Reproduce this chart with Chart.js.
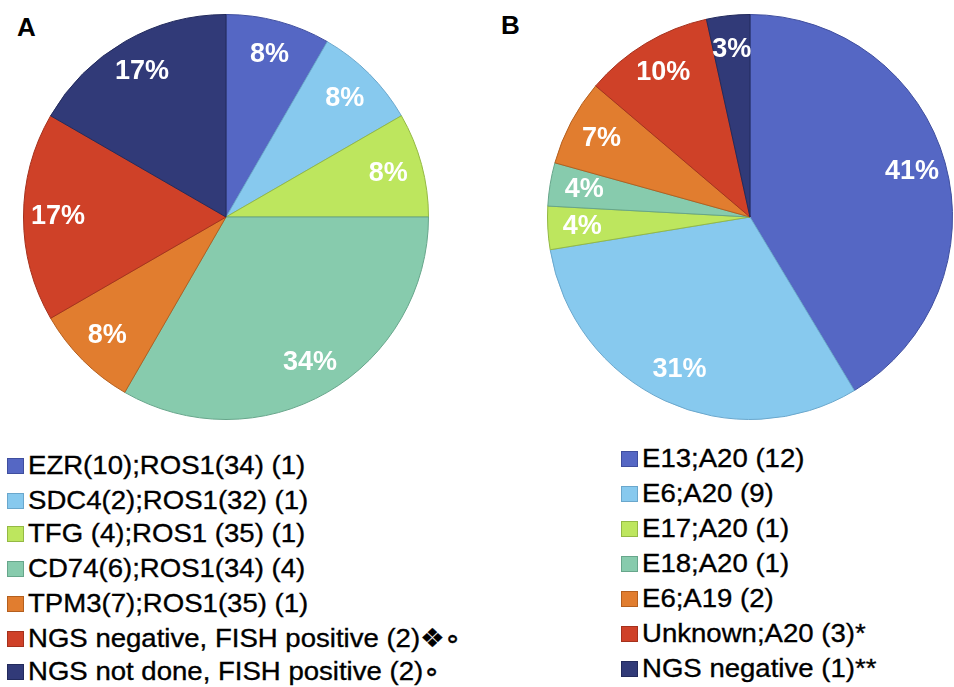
<!DOCTYPE html>
<html>
<head>
<meta charset="utf-8">
<script src="https://cdn.jsdelivr.net/npm/chart.js@4/dist/chart.umd.min.js"></script>
<style>
  body { margin: 0; background: #fff; font-family: "Liberation Sans", Arial, sans-serif; }
  #wrap { position: relative; width: 954px; height: 687px; overflow: hidden; }
  .panel-tag { position: absolute; font-weight: bold; font-size: 26px; color: #000; }
  canvas { position: absolute; }
  .legend { position: absolute; font-size: 26px; color: #000; }
  .legend div { position: absolute; white-space: nowrap; line-height: 30px; }
  .legend span.box { position: absolute; left: 0; top: 8px; width: 15px; height: 14px; }
  .legend span.txt { position: absolute; top: 0; transform: scaleX(1.06); transform-origin: left center; -webkit-text-stroke: 0.35px #000; }
</style>
</head>
<body>
<div id="wrap">
  <div class="panel-tag" style="left:17px;top:12px;">A</div>
  <div class="panel-tag" style="left:501px;top:10px;">B</div>
  <canvas id="pieA" width="406" height="406" style="left:23px;top:14px;"></canvas>
  <canvas id="pieB" width="406" height="406" style="left:547px;top:14px;"></canvas>
  <div class="legend" id="legA" style="left:7px;top:0;"></div>
  <div class="legend" id="legB" style="left:621px;top:0;"></div>
</div>
<script>
// panel A: fusion partners
const labelsA = [
  'EZR(10);ROS1(34) (1)',
  'SDC4(2);ROS1(32) (1)',
  'TFG (4);ROS1 (35) (1)',
  'CD74(6);ROS1(34) (4)',
  'TPM3(7);ROS1(35) (1)',
  'NGS negative, FISH positive (2)\u2756\u2218',
  'NGS not done, FISH positive (2)\u2218'
];
const countsA = [1, 1, 1, 4, 1, 2, 2];
const pctA = ['8%', '8%', '8%', '34%', '8%', '17%', '17%'];

// panel B: exon / allele
const labelsB = [
  'E13;A20 (12)',
  'E6;A20 (9)',
  'E17;A20 (1)',
  'E18;A20 (1)',
  'E6;A19 (2)',
  'Unknown;A20 (3)*',
  'NGS negative (1)**'
];
const countsB = [12, 9, 1, 1, 2, 3, 1];
const pctB = ['41%', '31%', '4%', '4%', '7%', '10%', '3%'];

const fills = ['#5567C4', '#87C9EE', '#BDE65E', '#87CBAD', '#E17D2F', '#CF4128', '#313A78'];
const edges = ['#3F4E9E', '#6AA7CC', '#94B944', '#67A68B', '#B45F1E', '#A5311D', '#222A5C'];

const legendRowsA = [465, 500, 533, 568, 603, 638, 671];
const legendRowsB = [458, 493, 528, 563, 598, 633, 668];

// draws the percent text inside every slice
const sliceText = {
  id: 'sliceText',
  afterDatasetsDraw(chart, args, opts) {
    const ctx = chart.ctx;
    const meta = chart.getDatasetMeta(0);
    ctx.save();
    ctx.font = 'bold 27px "Liberation Sans", Arial, sans-serif';
    ctx.fillStyle = '#fff';
    ctx.textAlign = 'center';
    ctx.textBaseline = 'middle';
    meta.data.forEach((arc, i) => {
      const p = arc.getProps(['x', 'y', 'startAngle', 'endAngle', 'outerRadius'], true);
      const mid = (p.startAngle + p.endAngle) / 2;
      const r = p.outerRadius * opts.factor;
      ctx.fillText(opts.text[i], p.x + Math.cos(mid) * r, p.y + Math.sin(mid) * r);
    });
    ctx.restore();
  }
};

function makePie(id, labels, counts, pct) {
  new Chart(document.getElementById(id), {
    type: 'pie',
    data: {
      labels: labels,
      datasets: [{
        data: counts,
        backgroundColor: fills,
        borderColor: edges,
        borderWidth: 1
      }]
    },
    options: {
      responsive: false,
      animation: false,
      layout: { padding: 0 },
      plugins: {
        legend: { display: false },
        tooltip: { enabled: false },
        sliceText: { text: pct, factor: 0.83 }
      }
    },
    plugins: [sliceText]
  });
}

function makeLegend(id, labels, rows) {
  const el = document.getElementById(id);
  labels.forEach((txt, i) => {
    const row = document.createElement('div');
    row.style.top = (rows[i] - 15) + 'px';
    row.innerHTML = '<span class="box" style="background:' + fills[i] + ';border:1px solid ' + edges[i] + '"></span>' +
      '<span class="txt" style="left:21px">' + txt + '</span>';
    el.appendChild(row);
  });
}

makePie('pieA', labelsA, countsA, pctA);
makePie('pieB', labelsB, countsB, pctB);
makeLegend('legA', labelsA, legendRowsA);
makeLegend('legB', labelsB, legendRowsB);
</script>
</body>
</html>
